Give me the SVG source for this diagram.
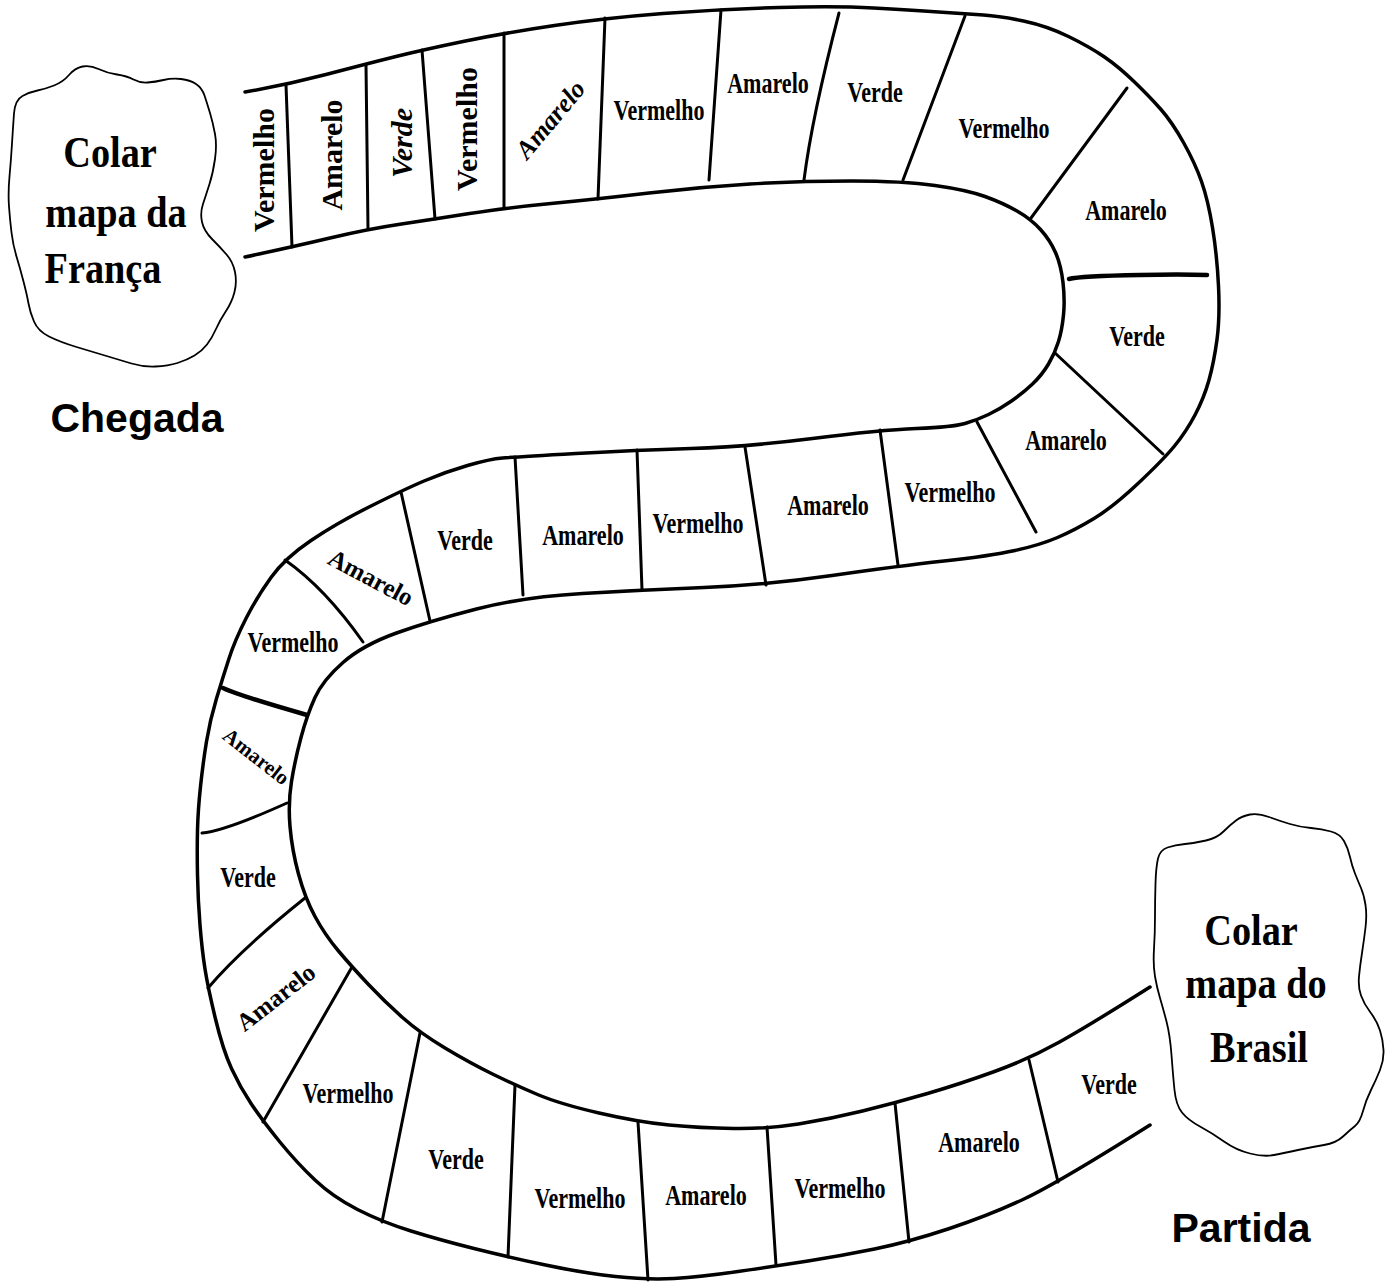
<svg xmlns="http://www.w3.org/2000/svg" width="1393" height="1285" viewBox="0 0 1393 1285">
<style>
.edge{fill:none;stroke:#000;stroke-width:3.5;stroke-linecap:round;stroke-linejoin:round}
.div{fill:none;stroke:#000;stroke-width:3;stroke-linecap:round}
.thick{stroke-width:4.5}
.blob{fill:#fff;stroke:#000;stroke-width:1.8}
.lbl{font-family:"Liberation Serif","Times New Roman",serif;font-weight:bold;font-size:29px;text-anchor:middle;fill:#000}
.rot{font-family:"Liberation Serif","Times New Roman",serif;font-weight:bold;font-size:30px;text-anchor:middle;fill:#000}
.ital{font-style:italic}
.map{font-family:"Liberation Serif","Times New Roman",serif;font-weight:bold;font-size:44px;text-anchor:middle;fill:#000}
.title{font-family:"Liberation Sans",Arial,sans-serif;font-weight:bold;font-size:41px;text-anchor:middle;fill:#000}
</style>
<rect width="1393" height="1285" fill="#fff"/>
<g id="track">
<path class="edge" d="M245,92 Q286,85 326,74.5 Q366,64 394,57 Q422,50 463,41.5 Q504,33 554.5,25.5 Q605,18 663,13.5 Q721,9 779,7.5 Q837,6 873.5,8 Q910,10 938.5,12 Q967,14 983.5,15 Q1000,16 1023.5,21 Q1047,26 1068.5,36.5 Q1090,47 1104.5,57 Q1119,67 1134.5,82 Q1150,97 1161,109.5 Q1172,122 1183.5,142.5 Q1195,163 1201.5,181.5 Q1208,200 1212.5,227.5 Q1217,255 1218.5,286 Q1220,317 1217,339.5 Q1214,362 1209,380 Q1204,398 1195,415 Q1186,432 1174.5,446 Q1163,460 1138,483.5 Q1113,507 1094,518.5 Q1075,530 1057.5,537.5 Q1040,545 1015,550.5 Q990,556 944,561 Q898,566 832,575.5 Q766,585 704,587.5 Q642,590 582.5,593.5 Q523,597 476.5,609 Q430,621 396.5,633 Q363,645 343,662.5 Q323,680 315,697.5 Q307,715 301,737.5 Q295,760 291.5,781.5 Q288,803 290,826.5 Q292,850 298.5,874 Q305,898 315,916.5 Q325,935 338.5,951 Q352,967 368.5,984.5 Q385,1002 402.5,1017.5 Q420,1033 445,1048 Q470,1063 492.5,1074 Q515,1085 537.5,1094.5 Q560,1104 599,1113 Q638,1122 669,1125 Q700,1128 733.5,1128.5 Q767,1129 798.5,1124 Q830,1119 862.5,1111 Q895,1103 927.5,1093.5 Q960,1084 994.5,1071.5 Q1029,1059 1059.5,1042 Q1090,1025 1150,987"/>
<path class="edge" d="M245,257 Q292,247 330,238 Q368,229 401.5,224 Q435,219 469.5,213.5 Q504,208 551,203.5 Q598,199 649,193 Q700,187 750,184 Q800,181 851.5,181 Q903,181 935,185.5 Q967,190 985,196.5 Q1003,203 1017,211 Q1031,219 1040.5,229.5 Q1050,240 1055.5,252.5 Q1061,265 1063,282.5 Q1065,300 1063.5,315 Q1062,330 1058.5,341.5 Q1055,353 1048.5,364 Q1042,375 1032.5,384 Q1023,393 1011.5,401 Q1000,409 988.5,414.5 Q977,420 965,423.5 Q953,427 916.5,428.5 Q880,430 812.5,438.5 Q745,447 691,448.5 Q637,450 576,453.5 Q515,457 502.5,458 Q490,459 467.5,465.5 Q445,472 424,481 Q403,490 370,506.5 Q337,523 311,540.5 Q285,558 271,577.5 Q257,597 246,618.5 Q235,640 229,658.5 Q223,677 216.5,698.5 Q210,720 206.5,741.5 Q203,763 200.5,786.5 Q198,810 197.5,830 Q197,850 197.5,875 Q198,900 200,925 Q202,950 205,969 Q208,988 215.5,1019 Q223,1050 231.5,1068.5 Q240,1087 251,1103.5 Q262,1120 279.5,1141.5 Q297,1163 315,1180 Q333,1197 357.5,1209.5 Q382,1222 411,1231 Q440,1240 474,1248.5 Q508,1257 545.5,1265 Q583,1273 615.5,1276.5 Q648,1280 674,1278.5 Q700,1277 738,1271.5 Q776,1266 808,1261 Q840,1256 874.5,1249 Q909,1242 949.5,1228.5 Q990,1215 1024,1199 Q1058,1183 1150,1125"/>
</g>
<g id="dividers">
<path class="div" d="M286,85 L292,247"/>
<path class="div" d="M366,65 L368,229"/>
<path class="div" d="M422,50 L435,219"/>
<path class="div" d="M504,33 L504,208"/>
<path class="div" d="M605,18 L598,199"/>
<path class="div" d="M721,10 L709,180"/>
<path class="div" d="M839,13 Q812,117 804,180"/>
<path class="div" d="M965,16 L903,180"/>
<path class="div" d="M1127,88 L1031,218"/>
<path class="div thick" d="M1069,279 Q1080,276 1140,275 Q1180,274 1207,275"/>
<path class="div" d="M1055,353 L1163,454"/>
<path class="div" d="M977,422 L1036,532"/>
<path class="div" d="M880,430 L898,565"/>
<path class="div" d="M745,447 L766,585"/>
<path class="div" d="M637,450 L642,590"/>
<path class="div" d="M515,457 L523,595"/>
<path class="div" d="M401,492 L430,621"/>
<path class="div" d="M285,560 Q325,588 363,642"/>
<path class="div thick" d="M223,688 Q240,696 307,715"/>
<path class="div" d="M202,833 Q225,831 287,803"/>
<path class="div" d="M208,988 Q240,950 305,898"/>
<path class="div" d="M263,1122 L352,967"/>
<path class="div" d="M382,1222 L420,1033"/>
<path class="div" d="M508,1257 L515,1085"/>
<path class="div" d="M648,1280 L638,1122"/>
<path class="div" d="M776,1265 L767,1127"/>
<path class="div" d="M909,1242 L895,1103"/>
<path class="div" d="M1058,1182 L1029,1060"/>
</g>
<g id="labels">
<text class="rot" transform="translate(274,170) rotate(-90)">Vermelho</text>
<text class="rot" transform="translate(342,155) rotate(-90)">Amarelo</text>
<text class="rot ital" transform="translate(412,143) rotate(-90)">Verde</text>
<text class="rot" transform="translate(477,129) rotate(-90)">Vermelho</text>
<text class="rot ital" style="font-size:26px" transform="translate(557,125) rotate(-50)">Amarelo</text>
<text class="lbl" transform="translate(659,120) scale(0.76,1)">Vermelho</text>
<text class="lbl" transform="translate(768,93) scale(0.76,1)">Amarelo</text>
<text class="lbl" transform="translate(875,102) scale(0.76,1)">Verde</text>
<text class="lbl" transform="translate(1004,138) scale(0.76,1)">Vermelho</text>
<text class="lbl" transform="translate(1126,220) scale(0.76,1)">Amarelo</text>
<text class="lbl" transform="translate(1137,346) scale(0.76,1)">Verde</text>
<text class="lbl" transform="translate(1066,450) scale(0.76,1)">Amarelo</text>
<text class="lbl" transform="translate(950,502) scale(0.76,1)">Vermelho</text>
<text class="lbl" transform="translate(828,515) scale(0.76,1)">Amarelo</text>
<text class="lbl" transform="translate(698,533) scale(0.76,1)">Vermelho</text>
<text class="lbl" transform="translate(583,545) scale(0.76,1)">Amarelo</text>
<text class="lbl" transform="translate(465,550) scale(0.76,1)">Verde</text>
<text class="rot" style="font-size:25px" transform="translate(367,585) rotate(28)">Amarelo</text>
<text class="lbl" transform="translate(293,652) scale(0.76,1)">Vermelho</text>
<text class="rot" style="font-size:21px" transform="translate(252,762) rotate(38)">Amarelo</text>
<text class="lbl" transform="translate(248,887) scale(0.76,1)">Verde</text>
<text class="rot" style="font-size:25px" transform="translate(281,1004) rotate(-38)">Amarelo</text>
<text class="lbl" transform="translate(348,1103) scale(0.76,1)">Vermelho</text>
<text class="lbl" transform="translate(456,1169) scale(0.76,1)">Verde</text>
<text class="lbl" transform="translate(580,1208) scale(0.76,1)">Vermelho</text>
<text class="lbl" transform="translate(706,1205) scale(0.76,1)">Amarelo</text>
<text class="lbl" transform="translate(840,1198) scale(0.76,1)">Vermelho</text>
<text class="lbl" transform="translate(979,1152) scale(0.76,1)">Amarelo</text>
<text class="lbl" transform="translate(1109,1094) scale(0.76,1)">Verde</text>
</g>
<g id="franca">
<path class="blob" d="M14,113.5 Q15,100 22.5,96 Q30,92 37.5,90.5 Q45,89 54,85.5 Q63,82 69,75 Q75,68 82.5,66.5 Q90,65 98.5,69 Q107,73 117,74.5 Q127,76 133.5,79.5 Q140,83 147.5,82.5 Q155,82 163.5,80 Q172,78 181,79 Q190,80 196,84 Q202,88 204.5,95.5 Q207,103 210,113 Q213,123 215,134 Q217,145 215,159 Q213,173 209.5,184 Q206,195 203,204 Q200,213 202,222 Q204,231 212,239 Q220,247 226.5,254.5 Q233,262 235,272 Q237,282 234.5,292 Q232,302 226,311 Q220,320 216,329 Q212,338 207,344.5 Q202,351 194.5,355.5 Q187,360 177.5,363 Q168,366 155.5,366.5 Q143,367 131.5,363.5 Q120,360 106.5,356 Q93,352 76.5,347 Q60,342 49,336.5 Q38,331 34,321.5 Q30,312 28.5,303.5 Q27,295 23.5,281.5 Q20,268 16.5,256.5 Q13,245 11.5,232.5 Q10,220 9,206.5 Q8,193 9.5,176.5 Q11,160 12,143.5 Q13,127 14,113.5 Z"/>
<text class="map" transform="translate(110,167) scale(0.87,1)">Colar</text>
<text class="map" transform="translate(116,227) scale(0.87,1)">mapa da</text>
<text class="map" transform="translate(103,283) scale(0.87,1)">França</text>
</g>
<g id="brasil">
<path class="blob" d="M1158,858.5 Q1160,850 1167.5,847.5 Q1175,845 1185,844 Q1195,843 1206,840.5 Q1217,838 1223.5,831.5 Q1230,825 1236,820.5 Q1242,816 1250,814.5 Q1258,813 1269,817 Q1280,821 1290,824 Q1300,827 1311,828 Q1322,829 1331,831.5 Q1340,834 1344,841 Q1348,848 1350,857 Q1352,866 1355,873.5 Q1358,881 1361,888 Q1364,895 1365.5,905 Q1367,915 1365.5,927.5 Q1364,940 1362,953 Q1360,966 1359,976.5 Q1358,987 1361,995.5 Q1364,1004 1370.5,1012.5 Q1377,1021 1380,1030.5 Q1383,1040 1383.5,1050 Q1384,1060 1380,1070 Q1376,1080 1371,1090 Q1366,1100 1363,1111 Q1360,1122 1355,1126 Q1350,1130 1343,1136.5 Q1336,1143 1324,1145 Q1312,1147 1298,1150 Q1284,1153 1274,1155 Q1264,1157 1250,1153.5 Q1236,1150 1224,1141.5 Q1212,1133 1200,1126.5 Q1188,1120 1182,1112.5 Q1176,1105 1174.5,1090 Q1173,1075 1171.5,1055 Q1170,1035 1166.5,1021.5 Q1163,1008 1160,998 Q1157,988 1155,976.5 Q1153,965 1154,949 Q1155,933 1155,916.5 Q1155,900 1155.5,883.5 Q1156,867 1158,858.5 Z"/>
<text class="map" transform="translate(1251,945) scale(0.87,1)">Colar</text>
<text class="map" transform="translate(1256,998) scale(0.87,1)">mapa do</text>
<text class="map" transform="translate(1259,1062) scale(0.87,1)">Brasil</text>
</g>
<g id="titles">
<text class="title" x="137" y="432">Chegada</text>
<text class="title" x="1241" y="1242">Partida</text>
</g>
</svg>
